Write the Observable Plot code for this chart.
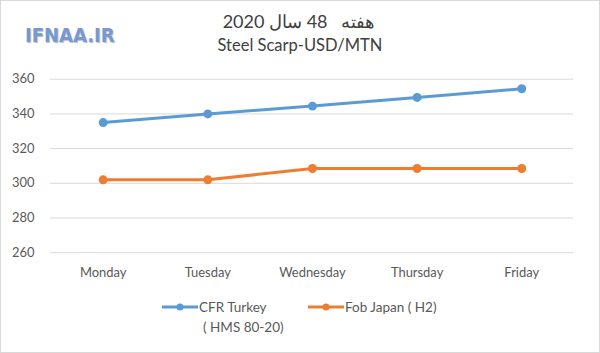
<!DOCTYPE html>
<html><head><meta charset="utf-8">
<script src="https://cdn.jsdelivr.net/npm/d3@7"></script>
<script src="https://cdn.jsdelivr.net/npm/@observablehq/plot@0.6"></script>
<style>
body{margin:0;background:#fff;}
#wrap{position:relative;width:598px;height:351px;border:1px solid #d9d9d9;overflow:hidden;font-family:Lato,"Open Sans",sans-serif;}
#wrap svg{position:absolute;left:-1px;top:-1px;}
.abs{position:absolute;white-space:pre;}
</style></head><body>
<div id="wrap">
  <div class="abs" id="logo" style="left:24px;top:22px;font:bold 20px 'DejaVu Sans Condensed','DejaVu Sans',sans-serif;color:#7898d0;text-shadow:1px 1px 1px #b0bacb;"></div>
  <div class="abs" id="t1" style="left:0;width:596px;top:9px;text-align:center;font-size:18px;color:#404040;direction:rtl;"></div>
  <div class="abs" id="t2" style="left:0;width:598px;top:34px;text-align:center;font-size:16.5px;color:#404040;"></div>
  <div class="abs" id="legend" style="left:0;top:296px;width:600px;font-size:13.5px;color:#595959;"></div>
</div>
<script>
const days = ["Monday","Tuesday","Wednesday","Thursday","Friday"];
const cfrTurkey = [335, 340, 344.5, 349.5, 354.5];
const fobJapan = [302, 302, 308.5, 308.5, 308.5];
const seriesNames = ["CFR Turkey\n( HMS 80-20)", "Fob Japan ( H2)"];
const seriesColors = ["#5b9bd5", "#ed7d31"];
const yTicks = [260, 280, 300, 320, 340, 360];
const titleLine1 = "هفته   48 سال 2020";
const titleLine2 = "Steel Scarp-USD/MTN";
const logoText = "IFNAA.IR";

const data = [];
days.forEach((d,i)=>{
  data.push({day:d, value:cfrTurkey[i], series:seriesNames[0]});
  data.push({day:d, value:fobJapan[i], series:seriesNames[1]});
});

const chart = Plot.plot({
  width: 600, height: 353,
  marginTop: 79, marginBottom: 100, marginLeft: 50, marginRight: 25,
  style: {fontFamily: "Lato, 'Open Sans', sans-serif", fontSize: "13px", color: "#595959", background: "transparent"},
  x: {type: "point", domain: days, padding: 0.5, label: null, tickSize: 0, tickPadding: 15},
  y: {domain: [260, 360], ticks: yTicks, label: null, tickSize: 0, tickPadding: 16},
  color: {domain: seriesNames, range: seriesColors},
  marks: [
    Plot.gridY(yTicks, {stroke: "#d9d9d9", strokeOpacity: 1, strokeWidth: 1}),
    Plot.line(data, {x: "day", y: "value", z: "series", stroke: "series", strokeWidth: 3}),
    Plot.dot(data, {x: "day", y: "value", fill: "series", r: 4.5})
  ]
});
document.getElementById("wrap").prepend(chart);

document.getElementById("logo").textContent = logoText;
document.getElementById("t1").textContent = titleLine1;
document.getElementById("t2").textContent = titleLine2;

const leg = document.getElementById("legend");
const legX = [160, 306];
seriesNames.forEach((n,i)=>{
  const item = document.createElement("div");
  item.className = "abs";
  item.style.left = legX[i] + "px";
  item.style.top = "0px";
  item.innerHTML = `<svg width="38" height="14" style="position:absolute;left:0;top:3px"><line x1="1" x2="37" y1="7" y2="7" stroke="${seriesColors[i]}" stroke-width="3"/><circle cx="19" cy="7" r="3.5" fill="${seriesColors[i]}"/></svg>`;
  const lines = n.split("\n");
  const t = document.createElement("div");
  t.className = "abs";
  t.style.left = "38px"; t.style.top = "0px";
  t.style.lineHeight = "20px";
  t.innerHTML = lines.map((l,k)=>`<div style="margin-left:${k?4:0}px">${l}</div>`).join("");
  item.appendChild(t);
  leg.appendChild(item);
});
</script>
</body></html>
